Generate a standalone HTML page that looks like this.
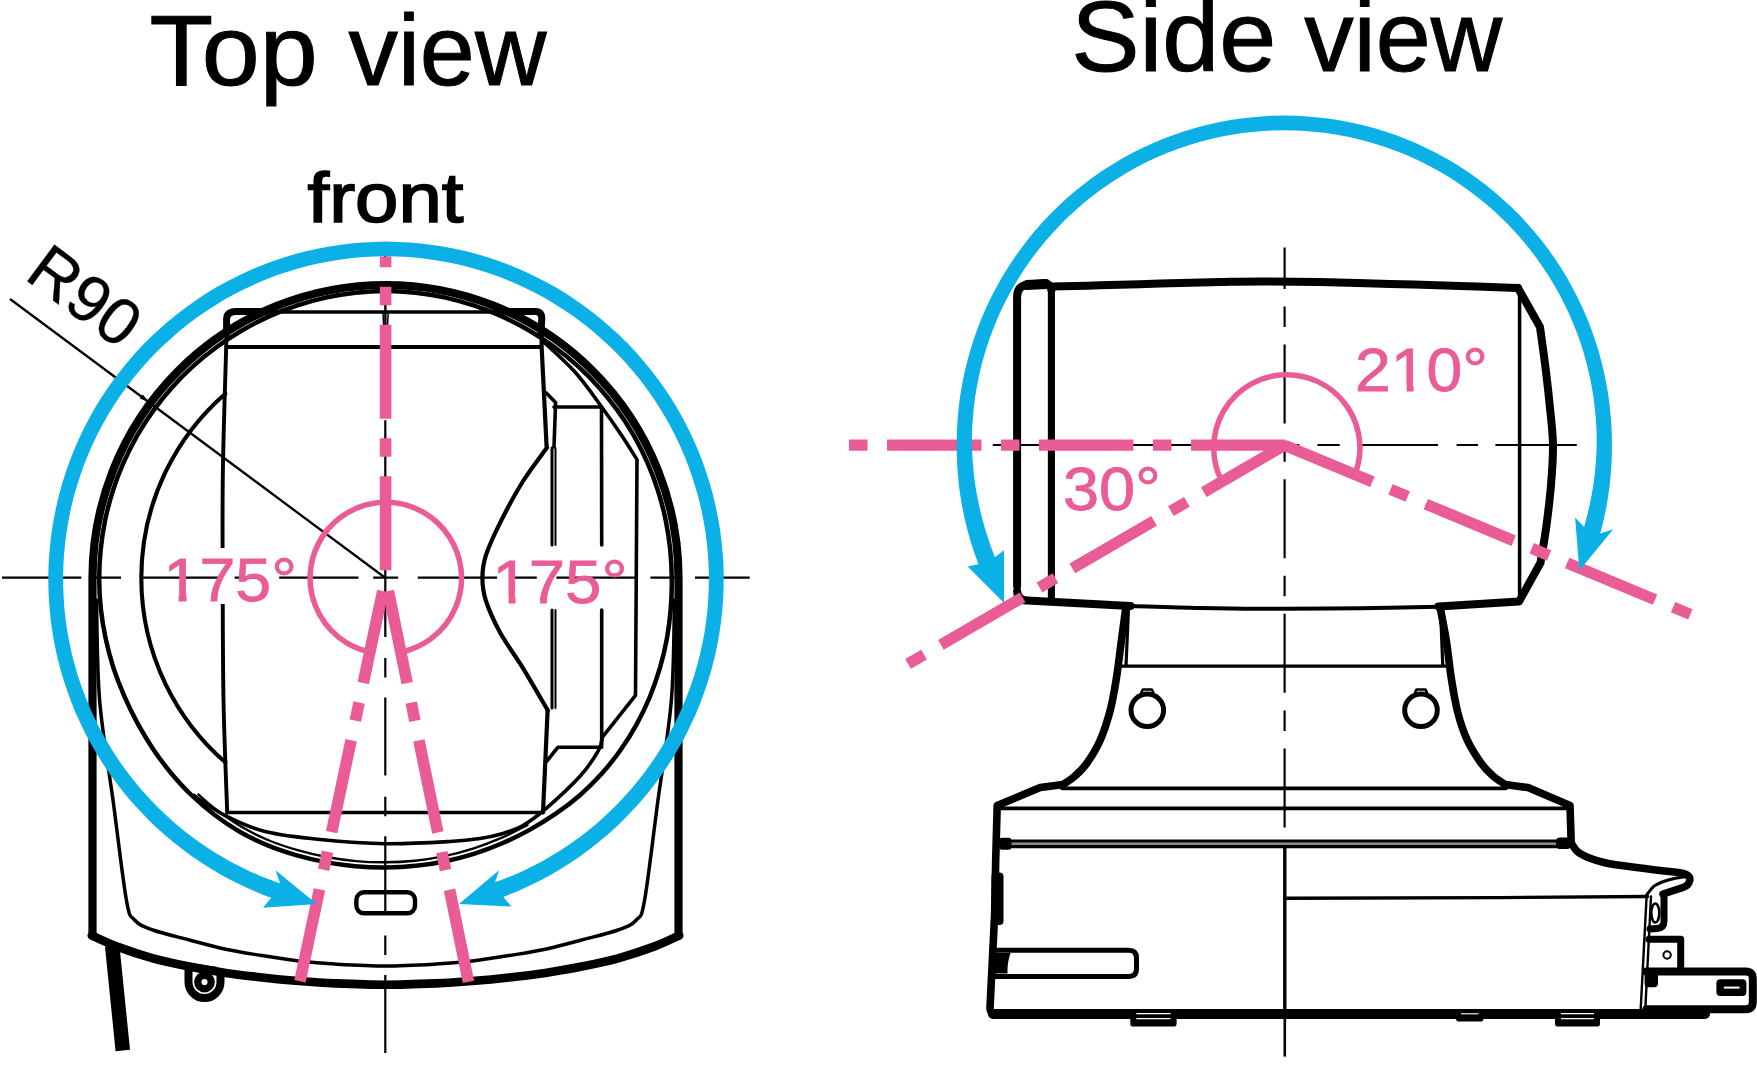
<!DOCTYPE html>
<html>
<head>
<meta charset="utf-8">
<title>Pan / tilt range</title>
<style>
html,body{margin:0;padding:0;background:#fff;}
body{width:1757px;height:1080px;overflow:hidden;font-family:"Liberation Sans",sans-serif;}
svg{display:block;}
text{font-family:"Liberation Sans",sans-serif;}
.k{stroke:#000;fill:none;stroke-linecap:round;stroke-linejoin:round;}
.kb{stroke:#000;fill:none;stroke-linecap:butt;stroke-linejoin:miter;}
.p{stroke:#ea5c96;fill:none;}
.b{stroke:#0bb1e6;fill:none;}
</style>
</head>
<body>
<svg width="1757" height="1080" viewBox="0 0 1757 1080">
<rect x="0" y="0" width="1757" height="1080" fill="#fff"/>

<!-- ================= TOP VIEW ================= -->
<g id="topview">
<path class="k" d="M92.5,935.5 L92.5,578 A293,293 0 0 1 678.5,578 L678.5,935.5 " stroke-width="8.2" stroke-linejoin="miter"/>
<path class="k" d="M91.8,935.5 C95.9,937.3 106.2,942.6 116.4,946.4 C126.6,950.2 140.8,954.9 152.9,958.3 C165.1,961.6 177.2,964.1 189.3,966.5 C201.4,968.9 213.6,971.1 225.7,972.9 C237.8,974.7 250,976 262.1,977.4 C274.2,978.8 286.5,980 298.6,981 C310.8,982 320.5,982.8 335,983.4 C349.5,984 368.7,984.8 385.5,984.8 C402.3,984.8 421.5,984 436,983.4 C450.5,982.8 460.2,982 472.4,981 C484.5,980 496.8,978.8 508.9,977.4 C521,976 533.2,974.7 545.3,972.9 C557.4,971.1 569.6,968.9 581.7,966.5 C593.8,964.1 606,961.6 618.1,958.3 C630.2,954.9 644.4,950.2 654.6,946.4 C664.8,942.6 675.1,937.3 679.2,935.5" stroke-width="8.6"/>
<path class="k" d="M96.5,600 C97,616.7 96.8,666.7 99.6,700 C102.3,733.3 108.5,766.7 113,800 C117.5,833.3 122.8,880 126.4,900 C130,920 130.2,915 134.6,920 C139,925 143.8,926.7 152.9,930 C162,933.3 177.2,936.8 189.3,940 C201.4,943.2 213.6,946.6 225.7,949.2 C237.8,951.8 250,953.6 262.1,955.6 C274.2,957.6 286.5,959.6 298.6,961 C310.8,962.4 320.5,963.3 335,964.1 C349.5,964.9 368.7,966 385.5,966 C402.3,966 421.5,964.9 436,964.1 C450.5,963.3 460.2,962.4 472.4,961 C484.5,959.6 496.8,957.6 508.9,955.6 C521,953.6 533.2,951.8 545.3,949.2 C557.4,946.6 569.6,943.2 581.7,940 C593.8,936.8 609,933.3 618.1,930 C627.2,926.7 632,925 636.4,920 C640.8,915 641,920 644.6,900 C648.2,880 653.5,833.3 658,800 C662.5,766.7 668.6,733.3 671.4,700 C674.1,666.7 674,616.7 674.5,600" stroke-width="3.5"/>
<path class="k" d="M671.8,579.3 C671.9,589.3 671.5,599.3 670.7,609.3 C669.9,619.2 668.6,629.2 666.8,639.1 C665,649 662.6,658.8 659.8,668.4 C656.9,678.1 653.6,687.6 649.8,697 C645.9,706.3 641.5,715.5 636.6,724.3 C631.8,733.1 626.4,741.8 620.5,750 C614.7,758.3 608.3,766.3 601.6,773.8 C594.8,781.4 587.5,788.5 579.9,795.2 C572.3,801.8 564.1,808 555.8,813.7 C547.5,819.4 538.8,824.7 530,829.6 C521.2,834.5 512.1,839 502.9,843 C493.7,847 484.2,850.5 474.6,853.6 C465,856.6 455.3,859.2 445.4,861.2 C435.6,863.3 425.6,864.8 415.6,865.8 C405.6,866.9 395.5,867.4 385.5,867.5 C375.5,867.6 365.4,867.1 355.3,866.2 C345.3,865.3 335.3,863.9 325.4,862.1 C315.5,860.2 305.6,857.9 295.9,855.1 C286.2,852.3 276.5,849.1 267.1,845.2 C257.7,841.3 248.5,836.8 239.7,831.8 C231,826.7 222.5,820.9 214.4,814.8 C206.3,808.7 198.6,802 191.3,795 C184,788 177.2,780.4 170.7,772.7 C164.3,764.9 158.3,756.8 152.7,748.4 C147.1,740.1 142,731.4 137.2,722.7 C132.4,713.9 128,704.9 124.1,695.7 C120.1,686.5 116.5,677.2 113.4,667.7 C110.4,658.2 107.8,648.5 105.7,638.8 C103.6,629 102,619.1 100.9,609.2 C99.8,599.3 99.2,589.3 99.2,579.3 C99.2,569.3 99.7,559.3 100.7,549.4 C101.7,539.4 103.2,529.5 105.2,519.7 C107.3,510 109.8,500.2 112.9,490.7 C115.9,481.2 119.5,471.8 123.5,462.7 C127.5,453.5 132.1,444.5 137,435.8 C142,427.2 147.4,418.7 153.3,410.6 C159.2,402.5 165.5,394.7 172.2,387.2 C178.8,379.8 186,372.6 193.4,365.9 C200.8,359.2 208.6,352.9 216.7,347 C224.8,341.1 233.2,335.5 241.8,330.5 C250.5,325.4 259.4,320.8 268.5,316.6 C277.7,312.5 287.1,308.8 296.6,305.6 C306.1,302.4 315.8,299.8 325.6,297.6 C335.4,295.5 345.4,293.8 355.4,292.7 C365.4,291.7 375.5,291.1 385.5,291.1 C395.5,291.1 405.6,291.7 415.6,292.7 C425.6,293.8 435.6,295.5 445.4,297.6 C455.2,299.8 464.9,302.4 474.4,305.6 C483.9,308.8 493.3,312.5 502.5,316.6 C511.6,320.8 520.5,325.4 529.2,330.5 C537.8,335.5 546.2,341.1 554.3,347 C562.4,352.9 570.2,359.2 577.6,365.9 C585,372.6 592.2,379.8 598.8,387.2 C605.5,394.7 611.8,402.5 617.7,410.6 C623.6,418.7 629,427.2 634,435.9 C638.9,444.5 643.4,453.5 647.4,462.7 C651.4,471.8 655,481.3 658,490.8 C661,500.3 663.6,510 665.6,519.8 C667.6,529.5 669.2,539.5 670.2,549.4 C671.2,559.3 671.7,569.3 671.8,579.3Z" stroke-width="4.5"/>
<path class="k" d="M527.4,825.1 C523,827.3 509.8,834.3 500.8,838.2 C491.7,842.1 482.4,845.6 473,848.6 C463.6,851.6 454,854.1 444.3,856.1 C434.7,858.1 424.9,859.7 415.1,860.7 C405.3,861.7 395.4,862.2 385.5,862.3 C375.6,862.4 365.7,862 355.9,861.1 C346,860.2 336.2,858.8 326.5,857 C316.7,855.2 307,852.9 297.5,850.2 C287.9,847.4 278.4,844.3 269.2,840.5 C260,836.7 251,832.3 242.3,827.3 C233.7,822.3 224.8,816 217.5,810.6 C210.1,805.1 201.6,797.2 198.4,794.5" stroke-width="2.4"/>
<path class="k" d="M225.3,762.3 A244.2,244.2 0 0 1 225.3,393.7" stroke-width="4.1"/>
<rect class="k" x="356.4" y="892.3" width="58.6" height="21" rx="7.5" stroke-width="4.4"/>
<line class="kb" x1="112.2" y1="946" x2="122.8" y2="1050.5" stroke-width="14.5"/>
<path class="kb" d="M188.5,966 L188.5,982 A16,16 0 0 0 220.5,982 L220.5,972" stroke-width="8"/>
<line class="kb" x1="191" y1="964.3" x2="216.6" y2="967.5" stroke-width="1.6"/>
<circle cx="204.5" cy="982" r="10.4" fill="#000"/>
<circle cx="204.5" cy="982" r="3.1" fill="#fff"/>
<line class="k" x1="229" y1="312" x2="540" y2="312" stroke-width="3.6"/>
<line class="k" x1="226.6" y1="347" x2="541" y2="347" stroke-width="3.8"/>
<path class="k" d="M226.6,333 C226.5,335.2 226.8,323.2 226.2,346 C225.6,368.8 223.5,431 222.9,470 C222.3,509 222.6,541.7 222.7,580 C222.8,618.3 222.8,661.2 223.5,700 C224.2,738.8 226.6,793.8 227.2,812.5" stroke-width="3.9"/>
<line class="k" x1="227.2" y1="812.5" x2="543" y2="812.5" stroke-width="3.5"/>
<path class="k" d="M541.7,334 L541.6,346 L546.6,446.7" stroke-width="4.2"/>
<path class="k" d="M547.6,710.6 L543,812.5" stroke-width="4.2"/>
<path class="k" d="M383,313 L383.6,325 M385.6,306 L385.6,325 M388.2,313 L387.6,325" stroke-width="1.5"/>
<path class="k" d="M226.6,333 L226.6,319 Q226.8,311.6 236,311.4 L266,311.4" stroke-width="7"/>
<path class="k" d="M498,311.4 L536,311.4 Q541.6,311.8 541.8,318 L540.9,333.7" stroke-width="7"/>
<path class="k" d="M547,447.6 C542.9,453.3 530.3,469.5 522.5,482 C514.7,494.5 506.3,510.4 500.2,522.6 C494.1,534.8 489,545.8 486,555 C483,564.2 482.4,570.3 482.4,578 C482.4,585.7 483,591.9 486,601 C489,610.1 494.1,621.6 500.2,632.8 C506.3,643.9 514.9,655 522.8,667.9 C530.7,680.8 543.6,703.3 547.8,710.4" stroke-width="4.2"/>
<line class="k" x1="552" y1="448" x2="552" y2="545" stroke-width="3"/>
<line class="k" x1="555.5" y1="448" x2="555.5" y2="545" stroke-width="2"/>
<line class="k" x1="552" y1="610" x2="552" y2="708" stroke-width="3"/>
<line class="k" x1="555.5" y1="610" x2="555.5" y2="708" stroke-width="2"/>
<path class="k" d="M546.3,393 L555.6,402.5 L554,447" stroke-width="3.6"/>
<path class="k" d="M554,407 L601.5,407 L601.7,545" stroke-width="3.6"/>
<path class="k" d="M601.7,610 L601.7,745" stroke-width="3.6"/>
<path class="k" d="M546.6,761.3 L557.8,747.3 L601.7,747.3" stroke-width="3.6"/>
<path class="k" d="M542.6,341 C548,346.2 565.3,361.2 575,372 C584.7,382.8 593.2,395.3 601,406 C608.8,416.7 616,427.1 622,436 C628,444.9 634.5,455.7 637,459.6 L635.5,695.4 L602.2,737.4" stroke-width="3.6"/>
<path class="k" d="M602.2,737.4 C601.6,739.6 602.2,743.9 598.5,750.4 C594.8,756.9 589,766.4 580,776.3 C571,786.2 554.5,801.3 544.8,809.6 C535.1,817.9 529.1,822 522,826 C514.9,830 509,831.6 502,833.7 C495,835.8 488.7,837.2 480,838.5 C471.3,839.8 465.7,840.6 450,841.5 C434.3,842.4 407.7,844 386,843.7 C364.3,843.4 340.2,841.5 320,839.5 C299.8,837.5 280.3,835.2 265,831.5 C249.7,827.8 239.3,822.6 228,817 C216.7,811.4 202.2,801.2 197,798 L194,795.5" stroke-width="3.6"/>
<rect x="164" y="548" width="134" height="56" fill="#fff"/>
<rect x="493" y="548" width="134.5" height="57" fill="#fff"/>
<line class="kb" x1="2" y1="577.7" x2="749.7" y2="577.7" stroke-width="2.2" stroke-dasharray="79.3 14.7 25 19.6"/>
<line class="kb" x1="385.3" y1="1053" x2="385.3" y2="250" stroke-width="2.2" stroke-dasharray="78 20 19.5 21.2"/>
<line class="kb" x1="10" y1="299" x2="385.5" y2="578" stroke-width="2.3"/>
<path d="M148.6,401.8 L139.8,398.6 L142.8,394.4 Z" fill="#000"/>
<line class="p" x1="385.6" y1="570.3" x2="385.6" y2="256.4" stroke-width="11.6" stroke-dasharray="94 19.5 18.5 19.5"/>
<line class="p" x1="382.8" y1="591" x2="299.3" y2="984.5" stroke-width="11.6" stroke-dasharray="94 20 18.5 20"/>
<line class="p" x1="388.3" y1="591" x2="469" y2="984.5" stroke-width="11.6" stroke-dasharray="94 20 18.5 20"/>
<path class="p" d="M369.9,652 A75.7,75.7 0 1 1 400.8,652.2" stroke-width="5.5"/>
<path fill="#0bb1e6" d="M287,903.1 L275.8,899.4 L264.8,895.4 L253.9,890.9 L243.2,886.1 L232.7,881 L222.3,875.4 L212.2,869.5 L202.3,863.3 L192.5,856.7 L183.1,849.8 L173.8,842.6 L164.8,835 L156.1,827.2 L147.7,819 L139.6,810.6 L131.7,801.9 L124.1,792.9 L116.9,783.7 L110,774.2 L103.4,764.5 L97.2,754.6 L91.3,744.5 L85.7,734.2 L80.6,723.6 L75.7,712.9 L71.3,702.1 L67.3,691.1 L63.6,680 L60.3,668.7 L57.4,657.4 L54.9,645.9 L52.8,634.4 L51.1,622.8 L49.8,611.2 L48.9,599.5 L48.4,587.8 L48.3,576.1 L48.6,564.4 L49.4,552.7 L50.5,541 L52,529.4 L54,517.8 L56.3,506.4 L59,495 L62.1,483.7 L65.7,472.5 L69.5,461.4 L73.8,450.5 L78.5,439.8 L83.5,429.2 L88.9,418.8 L94.6,408.6 L100.7,398.6 L107.2,388.8 L114,379.3 L121.1,369.9 L128.5,360.9 L136.2,352.1 L144.2,343.5 L152.6,335.3 L161.2,327.4 L170.1,319.7 L179.2,312.4 L188.6,305.4 L198.2,298.7 L208,292.3 L218.1,286.3 L228.4,280.7 L238.8,275.4 L249.4,270.5 L260.2,265.9 L271.2,261.8 L282.3,258 L293.5,254.6 L304.8,251.6 L316.2,248.9 L327.7,246.7 L339.3,244.9 L350.9,243.5 L362.6,242.5 L374.3,241.9 L386,241.6 L397.7,241.9 L409.4,242.5 L421.1,243.5 L432.7,244.9 L444.3,246.7 L455.8,248.9 L467.2,251.6 L478.5,254.6 L489.7,258 L500.8,261.8 L511.8,265.9 L522.6,270.5 L533.2,275.4 L543.6,280.7 L553.9,286.3 L564,292.3 L573.8,298.7 L583.4,305.4 L592.8,312.4 L601.9,319.7 L610.8,327.4 L619.4,335.3 L627.8,343.5 L635.8,352.1 L643.5,360.9 L650.9,369.9 L658,379.3 L664.8,388.8 L671.3,398.6 L677.4,408.6 L683.1,418.8 L688.5,429.2 L693.5,439.8 L698.2,450.5 L702.5,461.4 L706.3,472.5 L709.9,483.7 L713,495 L715.7,506.4 L718,517.8 L720,529.4 L721.5,541 L722.6,552.7 L723.4,564.4 L723.7,576.1 L723.6,587.8 L723.1,599.5 L722.2,611.2 L720.9,622.8 L719.2,634.4 L717.1,645.9 L714.6,657.4 L711.7,668.7 L708.4,680 L704.7,691.1 L700.7,702.1 L696.3,712.9 L691.4,723.6 L686.3,734.2 L680.7,744.5 L674.8,754.6 L668.6,764.5 L662,774.2 L655.1,783.7 L647.9,792.9 L640.3,801.9 L632.4,810.6 L624.3,819 L615.9,827.2 L607.2,835 L598.2,842.6 L588.9,849.8 L579.5,856.7 L569.7,863.3 L559.8,869.5 L549.7,875.4 L539.3,881 L528.8,886.1 L518.1,890.9 L507.2,895.4 L496.2,899.4 L485,903.1 L480.1,887.2 L490.8,883.8 L501.3,880 L511.7,875.9 L521.9,871.4 L532,866.5 L541.9,861.4 L551.6,855.8 L561.1,849.9 L570.4,843.7 L579.5,837.2 L588.3,830.4 L597,823.2 L605.3,815.8 L613.4,808.1 L621.2,800.1 L628.8,791.8 L636,783.3 L642.9,774.5 L649.6,765.5 L655.9,756.2 L661.9,746.7 L667.5,737.1 L672.9,727.2 L677.8,717.2 L682.5,707 L686.7,696.6 L690.6,686.2 L694.2,675.5 L697.3,664.8 L700.1,653.9 L702.5,643 L704.6,632 L706.2,620.9 L707.5,609.8 L708.3,598.6 L708.8,587.4 L708.9,576.2 L708.6,565 L707.9,553.8 L706.8,542.7 L705.4,531.6 L703.5,520.5 L701.3,509.5 L698.7,498.6 L695.7,487.9 L692.3,477.2 L688.6,466.6 L684.5,456.2 L680.1,445.9 L675.3,435.8 L670.1,425.8 L664.6,416.1 L658.8,406.5 L652.6,397.1 L646.2,388 L639.4,379.1 L632.3,370.4 L624.9,362 L617.2,353.8 L609.2,346 L601,338.4 L592.5,331 L583.8,324 L574.8,317.3 L565.6,310.9 L556.2,304.9 L546.6,299.1 L536.8,293.7 L526.8,288.7 L516.6,283.9 L506.3,279.6 L495.8,275.6 L485.2,272 L474.5,268.7 L463.7,265.8 L452.7,263.3 L441.7,261.2 L430.7,259.5 L419.6,258.1 L408.4,257.1 L397.2,256.5 L386,256.3 L374.8,256.5 L363.6,257.1 L352.4,258.1 L341.3,259.5 L330.3,261.2 L319.3,263.3 L308.3,265.8 L297.5,268.7 L286.8,272 L276.2,275.6 L265.7,279.6 L255.4,283.9 L245.2,288.7 L235.2,293.7 L225.4,299.1 L215.8,304.9 L206.4,310.9 L197.2,317.3 L188.2,324 L179.5,331 L171,338.4 L162.8,346 L154.8,353.8 L147.1,362 L139.7,370.4 L132.6,379.1 L125.8,388 L119.4,397.1 L113.2,406.5 L107.4,416.1 L101.9,425.8 L96.7,435.8 L91.9,445.9 L87.5,456.2 L83.4,466.6 L79.7,477.2 L76.3,487.9 L73.3,498.6 L70.7,509.5 L68.5,520.5 L66.6,531.6 L65.2,542.7 L64.1,553.8 L63.4,565 L63.1,576.2 L63.2,587.4 L63.7,598.6 L64.5,609.8 L65.8,620.9 L67.4,632 L69.5,643 L71.9,653.9 L74.7,664.8 L77.8,675.5 L81.4,686.2 L85.3,696.6 L89.5,707 L94.2,717.2 L99.1,727.2 L104.5,737.1 L110.1,746.7 L116.1,756.2 L122.4,765.5 L129.1,774.5 L136,783.3 L143.2,791.8 L150.8,800.1 L158.6,808.1 L166.7,815.8 L175,823.2 L183.7,830.4 L192.5,837.2 L201.6,843.7 L210.9,849.9 L220.4,855.8 L230.1,861.4 L240,866.5 L250.1,871.4 L260.3,875.9 L270.7,880 L281.2,883.8 L291.9,887.2Z"/>
<path fill="#0bb1e6" d="M316.8,904 L275.5,870.3 L281,886 L263,907.8 Z"/>
<path fill="#0bb1e6" d="M459,904 L499,870.3 L494,886 L511.5,906.6 Z"/>
<text x="149.6" y="85.1" font-size="100" textLength="168" lengthAdjust="spacingAndGlyphs" stroke="#000" stroke-width="1">Top</text>
<text x="348.4" y="85.1" font-size="100" textLength="198" lengthAdjust="spacingAndGlyphs" stroke="#000" stroke-width="1">view</text>
<text x="307.5" y="222.4" font-size="70" textLength="156" lengthAdjust="spacingAndGlyphs" stroke="#000" stroke-width="1.7">front</text>
<text transform="translate(22.9,278.1) rotate(36.65)" x="0" y="0" font-size="66" stroke="#000" stroke-width="0.3">R90</text>
<text x="163.5" y="601" font-size="61" fill="#ea5c96" stroke="#ea5c96" stroke-width="0.8" textLength="133.5" lengthAdjust="spacingAndGlyphs">175°</text>
<text x="492.5" y="603" font-size="61" fill="#ea5c96" stroke="#ea5c96" stroke-width="0.8" textLength="135" lengthAdjust="spacingAndGlyphs">175°</text>
<path fill="#fff" d="M166.5,594.6H178.6V603.2H166.5Z M186.6,594.6H198.5V603.2H186.6Z"/>
<path fill="#fff" d="M495.5,596.6H508.6V605.2H495.5Z M515.6,596.6H527.5V605.2H515.6Z"/>
</g>

<!-- ================= SIDE VIEW ================= -->
<g id="sideview">
<path class="k" d="M1017.1,586 L1017.1,297 Q1017.1,285 1029,284.4 L1043,283.6 Q1050.6,283.6 1051.4,290" stroke-width="8"/>
<path class="k" d="M1027,285 L1046,283.9" stroke-width="10"/>
<line class="k" x1="1051.4" y1="288" x2="1051.4" y2="600.5" stroke-width="7.1"/>
<path class="k" d="M1051.4,286.5 C1059.5,286.3 1081.9,285.8 1100,285.3 C1118.1,284.8 1140,284.1 1160,283.6 C1180,283.1 1203.3,282.5 1220,282.1 C1236.7,281.7 1243.3,281.4 1260,281.4 C1276.7,281.4 1298.3,281.6 1320,282 C1341.7,282.4 1366.7,283.2 1390,283.9 C1413.3,284.6 1438.7,285.3 1460,286 C1481.3,286.7 1508.3,287.7 1518,288" stroke-width="8"/>
<path class="k" d="M1518,288 L1540,327 C1540.9,333.8 1543.9,354.7 1545.5,367.8 C1547.1,380.9 1548.5,392.5 1549.7,405.4 C1551,418.3 1552.8,431.7 1553,445 C1553.2,458.3 1552.1,471.6 1551,485 C1549.9,498.4 1548.2,512.2 1546.5,525.2 C1544.8,538.2 1541.5,556.5 1540.5,562.8 L1519,601.6 L1438.5,606.6" stroke-width="8"/>
<path class="k" d="M1438.5,606.8 C1425.4,607 1385.8,607.9 1360,608.2 C1334.2,608.5 1310.7,608.8 1284,608.8 C1257.3,608.8 1225.6,608.5 1200,608 C1174.4,607.5 1142.1,606.3 1130.5,606" stroke-width="4"/>
<path class="k" d="M1130.5,606 L1027,600.6 Q1017.4,600.2 1017.1,591" stroke-width="8"/>
<line class="k" x1="1519.6" y1="290" x2="1519.6" y2="598" stroke-width="3.5"/>
<path class="k" d="M1126,606.5 C1125.2,612.1 1123.1,628.1 1121.5,640 C1119.9,651.9 1118.4,665.9 1116.5,677.6 C1114.6,689.3 1113,699.6 1110.3,710 C1107.6,720.4 1104.1,731.4 1100.2,740.2 C1096.3,749 1091.2,757 1087,763 C1082.8,769 1079,772.4 1075,776 C1071,779.6 1065.2,783 1063.3,784.4 L1040.2,787.6 L997.2,805.6 L995.7,860 L994.6,915 L990,1008 Q989.8,1014 996,1014" stroke-width="7.6"/>
<path class="k" d="M1440,606.8 C1441,612.3 1444.3,628.2 1446.2,640 C1448.1,651.8 1449.3,665.5 1451.2,677.6 C1453.1,689.7 1455.1,702.2 1457.8,712.6 C1460.5,723 1463.4,731.8 1467.3,740.2 C1471.2,748.6 1476.7,757 1481,763 C1485.3,769 1489,772.4 1493,776 C1497,779.6 1503,783 1505,784.4 L1528,787.6 L1570,805.6 L1571.2,842.9 C1572.7,844.7 1574.4,850.2 1580,853.5 C1585.6,856.8 1594.6,860.3 1605,862.8 C1615.4,865.2 1630.4,866.6 1642.6,868.2 C1654.8,869.8 1672.1,871.8 1678,872.5 Q1690.5,874 1689.8,880 Q1689,885.5 1683,887.5 L1663,894" stroke-width="7.6"/>
<path class="k" d="M1664,894 L1664,921 Q1664,928 1657,928.5 L1650,929" stroke-width="7"/>
<ellipse class="k" cx="1655.3" cy="913" rx="4" ry="9.5" stroke-width="2.6"/>
<path class="k" d="M1128.6,607 L1126,666 M1121.8,666.2 L1445.4,666.2 M1440.4,607 L1442.8,666" stroke-width="3.2"/>
<circle class="k" cx="1147.3" cy="710.3" r="16.3" stroke-width="5"/>
<path class="k" d="M1141.3,692.5 L1142.8,689.5 L1151.8,689.5 L1153.3,692.5" stroke-width="2.6"/>
<circle class="k" cx="1421" cy="710.3" r="16.3" stroke-width="5"/>
<path class="k" d="M1415,692.5 L1416.5,689.5 L1425.5,689.5 L1427,692.5" stroke-width="2.6"/>
<line class="k" x1="1062" y1="788.3" x2="1506" y2="788.3" stroke-width="3.8"/>
<line class="k" x1="997" y1="808.3" x2="1568" y2="808.3" stroke-width="3.8"/>
<line class="kb" x1="1006" y1="843.8" x2="1560" y2="843.8" stroke-width="3" style="stroke:#8a8a8a"/>
<line class="k" x1="1006" y1="841" x2="1560" y2="841" stroke-width="3.2"/>
<line class="k" x1="1006" y1="846.6" x2="1560" y2="846.6" stroke-width="3.2"/>
<rect x="999" y="837.8" width="12.5" height="12" rx="3" fill="#000"/>
<rect x="1556" y="837.5" width="15" height="11.5" rx="4" fill="#000"/>
<line class="k" x1="993" y1="1014" x2="1705" y2="1014" stroke-width="10"/>
<rect x="991.5" y="872.6" width="12" height="52.5" rx="4" fill="#000"/>
<path class="k" d="M993,950.2 L1128.5,950.2 Q1136.5,950.2 1136.5,958 L1136.5,968.5 Q1136.5,976.5 1128.5,976.5 L992,976.5" stroke-width="5"/>
<path d="M991,953 L1010.5,953 Q1007,963 1007.5,973.5 L990,973.5 Z" fill="#000"/>
<line class="kb" x1="1284.8" y1="845" x2="1284.8" y2="1012" stroke-width="3.4"/>
<path class="k" d="M1284.8,898.3 L1500,897.6 L1647.6,896.5" stroke-width="3.4"/>
<path class="k" d="M1646.6,896.5 L1640.6,1011" stroke-width="2.4"/>
<path class="k" d="M1651,896.5 L1645.2,1011" stroke-width="2.4"/>
<path class="k" d="M1646.6,895 C1648,893.4 1651.1,888.1 1655,885.5 C1658.9,882.9 1664.8,881 1670,879.5 C1675.2,878 1683.3,877 1686,876.5" stroke-width="3"/>
<path class="k" d="M1649,939.2 L1680.7,939.2 L1680.7,968" stroke-width="7" stroke-linejoin="miter"/>
<circle class="k" cx="1667.1" cy="955" r="3.7" stroke-width="2"/>
<path class="k" d="M1646.4,971.4 L1745.5,971.4 Q1752.8,971.4 1752.8,979 L1752.8,1001.5 Q1752.8,1009.2 1745.5,1009.2 L1646.4,1009.2" stroke-width="8"/>
<rect x="1644.6" y="970" width="13.4" height="17.2" rx="4" fill="#000"/>
<rect x="1716.4" y="979.3" width="30" height="16.7" rx="4" fill="#000"/>
<rect x="1723.8" y="986.6" width="15.8" height="2" fill="#fff"/>
<rect x="1130.3" y="1012" width="46.3" height="14.6" rx="3.2" fill="#000"/><line class="kb" x1="1136.3" y1="1013.6" x2="1170.6" y2="1013.6" stroke-width="1.2" style="stroke:#fff"/><line class="kb" x1="1136.3" y1="1018.6" x2="1170.6" y2="1018.6" stroke-width="1.2" style="stroke:#fff"/>
<rect x="1555" y="1012" width="45" height="14.6" rx="3.2" fill="#000"/><line class="kb" x1="1561" y1="1013.6" x2="1594" y2="1013.6" stroke-width="1.2" style="stroke:#fff"/><line class="kb" x1="1561" y1="1018.6" x2="1594" y2="1018.6" stroke-width="1.2" style="stroke:#fff"/>
<rect x="1456" y="1012" width="27.5" height="9.6" rx="3.2" fill="#000"/><line class="kb" x1="1461" y1="1013.8" x2="1478.5" y2="1013.8" stroke-width="1.1" style="stroke:#fff"/>
<line class="kb" x1="1284.6" y1="247.6" x2="1284.6" y2="830" stroke-width="2.2" stroke-dasharray="41.4 17.6 20.5 17.5 79 17.6 20.5 17.5 79 17.6 20.5 17.5 79 17.6 20.5 17.5 79 50"/>
<line class="kb" x1="1284.8" y1="1012" x2="1284.8" y2="1056.6" stroke-width="2.6"/>
<line class="kb" x1="1576.8" y1="445" x2="1218.4" y2="445" stroke-width="2.2" stroke-dasharray="81.4 17.4 21.4 18.6 81 17.3 22.2 18.1 81"/>
<line class="kb" x1="992.8" y1="445" x2="1212" y2="445" stroke-width="2.2" stroke-dasharray="81 18 21.2 18"/>
<line class="p" x1="1285.5" y1="445.2" x2="848.8" y2="445.2" stroke-width="11.3" stroke-dasharray="94.5 19.5 18.5 19.5"/>
<line class="p" x1="1285.5" y1="444.6" x2="907.8" y2="664" stroke-width="11.3" stroke-dasharray="94.5 19.5 18.5 19.5"/>
<line class="p" x1="1284.5" y1="445.2" x2="1690.5" y2="614.4" stroke-width="11.3" stroke-dasharray="95.2 19.6 18.7 19.6"/>
<path class="p" d="M1221.8,481.2 A73.1,73.1 0 1 1 1353.8,477.1" stroke-width="5.5"/>
<path fill="#0bb1e6" d="M982.5,574.1 L978.2,563.5 L974.3,552.8 L970.8,541.9 L967.7,530.9 L964.9,519.8 L962.6,508.7 L960.6,497.4 L959,486.1 L957.9,474.8 L957.1,463.4 L956.7,452 L956.7,440.7 L957,429.3 L957.7,417.9 L958.8,406.6 L960.3,395.3 L962.2,384.1 L964.4,372.9 L967.1,361.9 L970.1,350.9 L973.5,340 L977.3,329.3 L981.4,318.7 L985.9,308.3 L990.8,298 L996,287.9 L1001.5,278 L1007.5,268.2 L1013.7,258.7 L1020.3,249.4 L1027.1,240.4 L1034.3,231.6 L1041.8,223 L1049.6,214.7 L1057.7,206.7 L1066,199 L1074.6,191.5 L1083.5,184.4 L1092.6,177.6 L1101.9,171.1 L1111.5,164.9 L1121.2,159.1 L1131.2,153.6 L1141.3,148.4 L1151.7,143.7 L1162.1,139.2 L1172.8,135.2 L1183.5,131.5 L1194.4,128.2 L1205.4,125.2 L1216.5,122.7 L1227.6,120.5 L1238.9,118.8 L1250.2,117.4 L1261.5,116.4 L1272.9,115.8 L1284.2,115.6 L1295.6,115.8 L1307,116.4 L1318.3,117.4 L1329.6,118.7 L1340.8,120.5 L1352,122.7 L1363.1,125.2 L1374,128.1 L1384.9,131.4 L1395.7,135.1 L1406.3,139.2 L1416.8,143.6 L1427.1,148.4 L1437.3,153.5 L1447.2,159 L1457,164.8 L1466.5,171 L1475.9,177.5 L1485,184.3 L1493.9,191.4 L1502.5,198.9 L1510.8,206.6 L1518.9,214.6 L1526.7,222.9 L1534.2,231.4 L1541.4,240.3 L1548.3,249.3 L1554.8,258.6 L1561.1,268.1 L1567,277.8 L1572.5,287.7 L1577.8,297.9 L1582.6,308.1 L1587.1,318.6 L1591.3,329.2 L1595,339.9 L1598.5,350.8 L1601.5,361.7 L1604.1,372.8 L1606.4,383.9 L1608.3,395.2 L1609.8,406.4 L1610.9,417.8 L1611.6,429.1 L1611.9,440.5 L1611.9,451.9 L1611.5,463.3 L1610.7,474.6 L1609.6,486 L1608,497.3 L1606.1,508.5 L1603.7,519.7 L1601,530.8 L1597.8,541.8 L1581.1,536.5 L1584.3,526.2 L1587.1,515.7 L1589.6,505.2 L1591.7,494.5 L1593.5,483.9 L1594.9,473.1 L1595.8,462.3 L1596.5,451.5 L1596.7,440.6 L1596.5,429.8 L1595.8,418.9 L1594.8,408.1 L1593.5,397.3 L1591.7,386.6 L1589.6,376 L1587.1,365.4 L1584.3,354.9 L1581.1,344.5 L1577.5,334.3 L1573.5,324.2 L1569.2,314.2 L1564.6,304.4 L1559.6,294.7 L1554.3,285.2 L1548.7,275.9 L1542.7,266.9 L1536.4,258 L1529.8,249.3 L1523,240.9 L1515.8,232.8 L1508.4,224.8 L1500.7,217.2 L1492.7,209.8 L1484.5,202.7 L1476,195.9 L1467.3,189.4 L1458.4,183.2 L1449.3,177.3 L1439.9,171.7 L1430.4,166.5 L1420.7,161.6 L1410.9,157 L1400.9,152.8 L1390.7,148.9 L1380.4,145.4 L1370,142.2 L1359.5,139.4 L1349,137 L1338.3,134.9 L1327.6,133.2 L1316.8,131.9 L1305.9,131 L1295.1,130.4 L1284.2,130.2 L1273.4,130.4 L1262.5,131 L1251.7,131.9 L1240.9,133.2 L1230.2,134.9 L1219.5,137 L1208.9,139.4 L1198.4,142.2 L1188,145.4 L1177.7,148.9 L1167.6,152.8 L1157.6,157 L1147.7,161.6 L1138,166.5 L1128.5,171.8 L1119.2,177.4 L1110.1,183.3 L1101.2,189.5 L1092.5,196 L1084,202.8 L1075.8,209.9 L1067.8,217.3 L1060.1,224.9 L1052.7,232.9 L1045.5,241 L1038.7,249.5 L1032.1,258.1 L1025.8,267 L1019.9,276.1 L1014.2,285.4 L1008.9,294.8 L1003.9,304.5 L999.3,314.3 L995,324.3 L991.1,334.4 L987.5,344.7 L984.3,355.1 L981.4,365.5 L979,376.1 L976.9,386.8 L975.1,397.5 L973.7,408.3 L972.8,419.1 L972.1,429.9 L971.9,440.8 L972.1,451.6 L972.8,462.4 L973.8,473.2 L975.1,484 L976.9,494.7 L979,505.3 L981.5,515.8 L984.3,526.3 L987.5,536.6 L991,546.9 L994.9,556.9 L999.2,566.9Z"/>
<path fill="#0bb1e6" d="M1004,603 L967.7,566.5 L988.5,562 L1004,550.3 Z"/>
<path fill="#0bb1e6" d="M1579.4,570.6 L1575.1,517.6 L1592.6,536 L1613.3,529.2 Z"/>
<text x="1071.3" y="71.2" font-size="100" textLength="205" lengthAdjust="spacingAndGlyphs" stroke="#000" stroke-width="1">Side</text>
<text x="1304.2" y="71.2" font-size="100" textLength="198" lengthAdjust="spacingAndGlyphs" stroke="#000" stroke-width="1">view</text>
<text x="1355" y="391" font-size="61" fill="#ea5c96" stroke="#ea5c96" stroke-width="0.8" textLength="133" lengthAdjust="spacingAndGlyphs">210°</text>
<text x="1063" y="510.2" font-size="61" fill="#ea5c96" stroke="#ea5c96" stroke-width="0.8" textLength="98" lengthAdjust="spacingAndGlyphs">30°</text>
<path fill="#fff" d="M1393.5,384.6H1406.6V393.2H1393.5Z M1413.6,384.6H1425.5V393.2H1413.6Z"/>
</g>
</svg>
</body>
</html>
